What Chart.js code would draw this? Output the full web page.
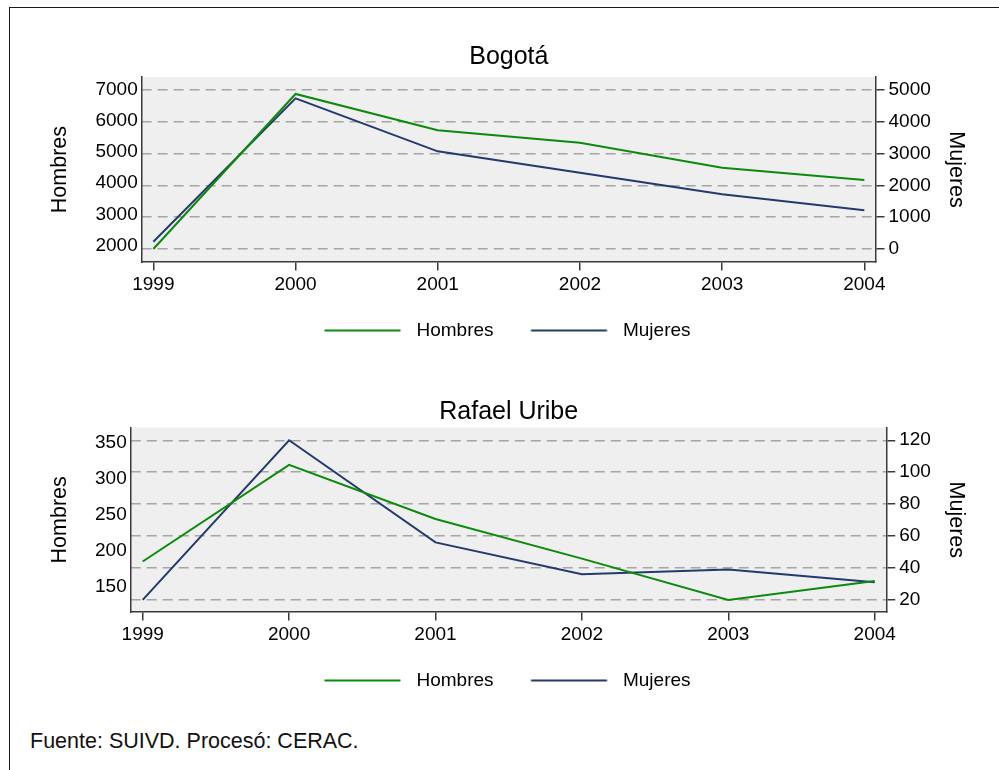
<!DOCTYPE html>
<html><head><meta charset="utf-8">
<script src="https://cdn.jsdelivr.net/npm/chart.js@4.4.1/dist/chart.umd.min.js"></script>
<style>
html,body{margin:0;padding:0;background:#fff;width:999px;height:770px;overflow:hidden;}
#frame{position:absolute;left:9px;top:7px;width:1200px;height:1000px;border-left:1px solid #1a1a1a;border-top:1px solid #1a1a1a;}
canvas{position:absolute;left:0;}
#c1{top:0}
#c2{top:350px}
#note{position:absolute;left:30px;top:731px;font:21.5px/21.5px "Liberation Sans",Arial,sans-serif;color:#111;white-space:nowrap;}
</style></head><body>
<div id="frame"></div>
<canvas id="c1" width="999" height="350"></canvas>
<canvas id="c2" width="999" height="350"></canvas>
<div id="note">Fuente: SUIVD. Procesó: CERAC.</div>
<script>
// ---- data ----
const years = [1999, 2000, 2001, 2002, 2003, 2004];
const seriesNames = ['Hombres', 'Mujeres'];
const panelTitles = ['Bogotá', 'Rafael Uribe'];
const bogotaHombres = [1890, 6860, 5695, 5300, 4495, 4100];
const bogotaMujeres = [229, 4727, 3065, 2393, 1716, 1214];
const rafaelHombres = [185, 319, 244, 189, 131.6, 158];
const rafaelMujeres = [20, 120, 56, 36, 39, 31];
const bogotaHombresTicks = [2000, 3000, 4000, 5000, 6000, 7000];
const bogotaMujeresTicks = [0, 1000, 2000, 3000, 4000, 5000];
const rafaelHombresTicks = [150, 200, 250, 300, 350];
const rafaelMujeresTicks = [20, 40, 60, 80, 100, 120];

// ---- styles ----
const FONT = '"Liberation Sans", Arial, Helvetica, sans-serif';
const GREEN = '#0b8a0b';
const NAVY = '#243a6c';
const AXIS = '#3a3a3a';
const GRID = '#a4a4a4';
const PLOT_BG = '#efefef';
const PAD_LEFT = 7.5;

const plotBackground = {
  id: 'plotBackground',
  beforeDraw(chart) {
    const {ctx, chartArea: a} = chart;
    ctx.save();
    ctx.fillStyle = PLOT_BG;
    ctx.fillRect(a.left, a.top, a.right - a.left, a.bottom - a.top);
    ctx.restore();
  }
};

// legend key: a short line sample with some blank room on its left
function legendIcon(color) {
  const c = document.createElement('canvas');
  c.width = 91; c.height = 4;
  const g = c.getContext('2d');
  g.fillStyle = color;
  g.fillRect(8.5, 1, 76, 2);
  return c;
}

function makePanel(id, title, hombres, mujeres, hTicks, mTicks, L) {
  const setTicks = arr => s => { s.ticks = arr.map(v => ({value: v})); };
  return new Chart(document.getElementById(id), {
    type: 'line',
    data: {
      labels: years,
      datasets: [
        {label: seriesNames[0], data: hombres, yAxisID: 'y', borderColor: GREEN, backgroundColor: GREEN,
         borderWidth: 2, pointRadius: 0, pointHoverRadius: 0, tension: 0, fill: false},
        {label: seriesNames[1], data: mujeres, yAxisID: 'y2', borderColor: NAVY, backgroundColor: NAVY,
         borderWidth: 2, pointRadius: 0, pointHoverRadius: 0, tension: 0, fill: false}
      ]
    },
    options: {
      responsive: false, animation: false, devicePixelRatio: 1,
      events: [],
      layout: {padding: {left: PAD_LEFT, right: 0, top: 0, bottom: 0}},
      plugins: {
        title: {display: true, text: title, color: '#000', fullSize: false,
          font: {family: FONT, size: 25, weight: 'normal', lineHeight: 1.2},
          padding: {top: L.titleTop, bottom: L.titleBottom}},
        legend: {position: 'bottom',
          labels: {font: {family: FONT, size: 19}, color: '#000', usePointStyle: true,
            pointStyleWidth: 91, boxWidth: 91, boxHeight: 2, padding: 28.9,
            generateLabels: chart => chart.data.datasets.map((ds, i) => ({
              text: ds.label, fillStyle: ds.borderColor, strokeStyle: ds.borderColor, lineWidth: 0,
              pointStyle: legendIcon(ds.borderColor), hidden: false, datasetIndex: i, fontColor: '#000'}))}},
        tooltip: {enabled: false}
      },
      scales: {
        x: {type: 'linear', position: 'bottom', min: 1998.918, max: 2004.082,
          afterBuildTicks: setTicks(years),
          afterFit: s => { s.height = 30; },
          ticks: {autoSkip: false, maxRotation: 0, padding: 3, color: '#000',
            font: {family: FONT, size: 19}, callback: v => String(v)},
          grid: {display: true, drawOnChartArea: false, drawTicks: true, tickLength: 8.5,
            color: AXIS, tickColor: AXIS, lineWidth: 1.5, tickWidth: 1.5},
          border: {display: true, color: AXIS, width: 1.5}},
        y: {type: 'linear', position: 'left', min: L.yMin, max: L.yMax,
          afterBuildTicks: setTicks(hTicks),
          afterFit: s => { s.width = L.leftW; },
          ticks: {autoSkip: false, padding: 4, color: '#000', font: {family: FONT, size: 19},
            callback: v => String(v)},
          grid: {display: false, drawTicks: false, drawOnChartArea: false},
          border: {display: true, color: AXIS, width: 1.5},
          title: {display: true, text: seriesNames[0], color: '#000',
            font: {family: FONT, size: 21.5, lineHeight: 1.2}, padding: {top: 40.1, bottom: 0}}},
        y2: {type: 'linear', position: 'right', min: L.y2Min, max: L.y2Max,
          afterBuildTicks: setTicks(mTicks),
          afterFit: s => { s.width = L.rightW; },
          ticks: {autoSkip: false, padding: 4, color: '#000', font: {family: FONT, size: 19},
            callback: v => String(v)},
          grid: {display: true, drawOnChartArea: true, drawTicks: true, tickLength: 8.5,
            color: GRID, lineWidth: 1.5, tickColor: AXIS, tickWidth: 1.5, tickBorderDash: []},
          border: {display: true, color: AXIS, width: 1.5, dash: [10, 6]},
          title: {display: true, text: seriesNames[1], color: '#000',
            font: {family: FONT, size: 21.5, lineHeight: 1.2}, padding: {top: 30, bottom: 0}}}
      }
    },
    plugins: [plotBackground]
  });
}

makePanel('c1', panelTitles[0], bogotaHombres, bogotaMujeres, bogotaHombresTicks, bogotaMujeresTicks,
  {titleTop: 42.5, titleBottom: 4.5, leftW: 141.7 - PAD_LEFT, rightW: 123,
   yMin: 1471, yMax: 7404, y2Min: -408, y2Max: 5395});
makePanel('c2', panelTitles[1], rafaelHombres, rafaelMujeres, rafaelHombresTicks, rafaelMujeresTicks,
  {titleTop: 47.5, titleBottom: 0, leftW: 130.7 - PAD_LEFT, rightW: 112.3,
   yMin: 114.9, yMax: 370.8, y2Min: 12.3, y2Max: 128.0});
</script>
</body></html>
